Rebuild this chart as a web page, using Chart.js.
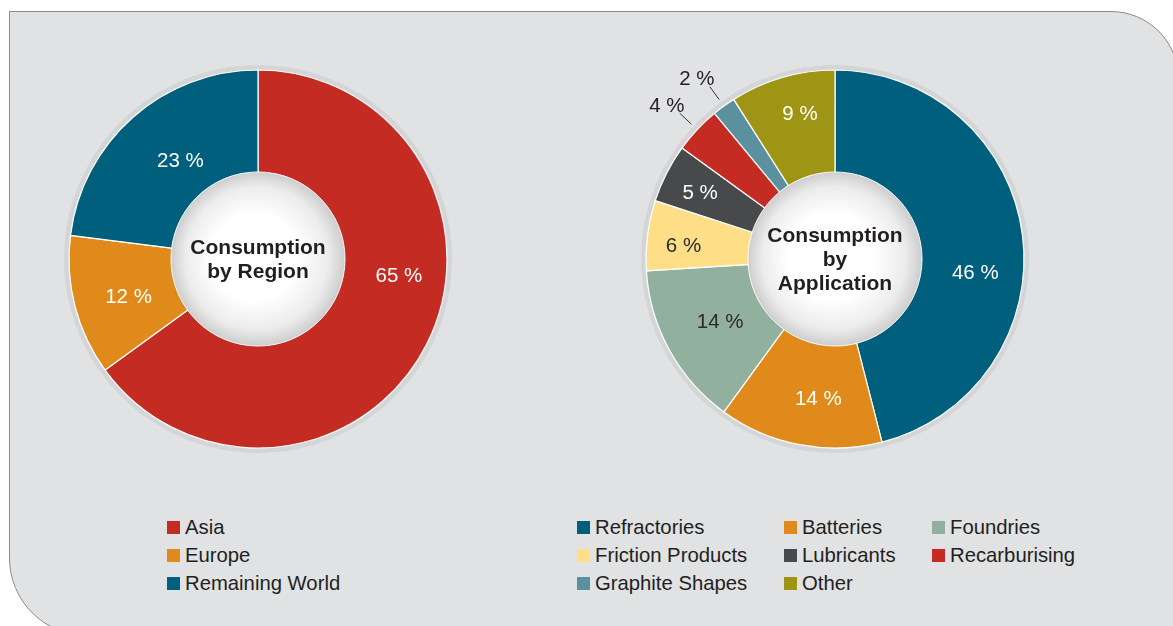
<!DOCTYPE html>
<html>
<head>
<meta charset="utf-8">
<script src="https://cdn.jsdelivr.net/npm/chart.js@4"></script>
<style>
  html, body { margin: 0; padding: 0; background: #fff; }
  body { width: 1173px; height: 626px; position: relative; overflow: hidden;
         font-family: "Liberation Sans", Arial, sans-serif; }
  .panel { position: absolute; left: 9px; top: 11px; width: 1168px; height: 623px;
           background: #e1e2e4; border: 1px solid #8c8c8c;
           border-top-right-radius: 68px; border-bottom-left-radius: 78px; }
  canvas { position: absolute; }
  .legend { position: absolute; top: 513px; display: grid; color: #231f20; font-size: 20.3px; }
  .legend .item { display: flex; align-items: center; height: 28px; line-height: 28px; white-space: nowrap; }
  .legend .sw { width: 13px; height: 13px; margin-right: 5px; flex: none; }
</style>
</head>
<body>
<div class="panel"></div>
<canvas id="regionChart" width="440" height="440" style="left:38px;top:39px"></canvas>
<canvas id="appChart" width="440" height="440" style="left:615px;top:39px"></canvas>
<div class="legend" id="regionLegend" style="left:167px;grid-template-columns:300px"></div>
<div class="legend" id="appLegend" style="left:577px;grid-template-columns:207px 148px 200px"></div>
<script>
// ---- データ ----
const regionLabels = ['Asia', 'Europe', 'Remaining World'];
const regionValues = [65, 12, 23];
const regionColors = ['#c42b22', '#e08a1b', '#005f7c'];

const appLabels = ['Refractories', 'Batteries', 'Foundries', 'Friction Products',
                   'Lubricants', 'Recarburising', 'Graphite Shapes', 'Other'];
const appValues = [46, 14, 14, 6, 5, 4, 2, 9];
const appColors = ['#005f7c', '#e08a1b', '#92b09e', '#fedf88',
                   '#48494b', '#c42b22', '#5b919f', '#9d9513'];

// ---- ラベル配置（角度の微調整・半径・文字色） ----
const regionLabelStyle = {
  radius: [142, 135, 125],
  shift: [-20, -2, 3],
  color: ['#fff', '#fff', '#fff'],
};
const appLabelStyle = {
  radius: [141, 141, 131, 152, 150, 227, 227, 149],
  shift: [13, -4, 0, -2.5, -1, -1, -1.5, 2.6],
  color: ['#fff', '#fff', '#2b2b2b', '#2b2b2b', '#fff', '#231f20', '#231f20', '#fff'],
};

// 背景リング + 中央の白い円 + ラベル
const donutDecor = {
  id: 'donutDecor',
  beforeDatasetsDraw(chart) {
    const arc = chart.getDatasetMeta(0).data[0];
    if (!arc) return;
    const { ctx } = chart;
    ctx.save();
    ctx.beginPath();
    ctx.arc(arc.x, arc.y, arc.outerRadius + 5, 0, Math.PI * 2);
    ctx.fillStyle = '#d4d5d7';
    ctx.fill();
    ctx.restore();
  },
  afterDatasetsDraw(chart, args, opts) {
    const meta = chart.getDatasetMeta(0);
    const { ctx } = chart;
    const cx = meta.data[0].x, cy = meta.data[0].y;
    const outer = meta.data[0].outerRadius;
    const inner = meta.data[0].innerRadius + 2;

    // 中央の円
    ctx.save();
    const g = ctx.createRadialGradient(cx - 8, cy - 4, 0, cx, cy, inner);
    g.addColorStop(0, '#ffffff');
    g.addColorStop(0.5, '#ffffff');
    g.addColorStop(0.82, '#ececec');
    g.addColorStop(1, '#cdcdcd');
    ctx.beginPath();
    ctx.arc(cx, cy, inner, 0, Math.PI * 2);
    ctx.fillStyle = g;
    ctx.fill();
    ctx.lineWidth = 1;
    ctx.strokeStyle = 'rgba(255,255,255,0.9)';
    ctx.stroke();

    // 中央テキスト
    ctx.fillStyle = '#231f20';
    ctx.font = 'bold 21px "Liberation Sans", Arial, sans-serif';
    ctx.textAlign = 'center';
    ctx.textBaseline = 'middle';
    const lines = opts.title;
    const lh = 24;
    lines.forEach((t, i) => {
      ctx.fillText(t, cx, cy + 1 + (i - (lines.length - 1) / 2) * lh);
    });

    // スライスのラベル
    ctx.font = '20.5px "Liberation Sans", Arial, sans-serif';
    const data = chart.data.datasets[0].data;
    const st = opts.labels;
    meta.data.forEach((el, i) => {
      const mid = (el.startAngle + el.endAngle) / 2;
      const a = mid + (st.shift[i] || 0) * Math.PI / 180;
      const r = st.radius[i];
      if (r > outer) {
        ctx.beginPath();
        ctx.moveTo(cx + Math.cos(mid) * (outer + 8), cy + Math.sin(mid) * (outer + 8));
        ctx.lineTo(cx + Math.cos(mid) * (outer + 24), cy + Math.sin(mid) * (outer + 24));
        ctx.strokeStyle = '#333';
        ctx.lineWidth = 1;
        ctx.stroke();
      }
      ctx.fillStyle = st.color[i];
      ctx.fillText(data[i] + ' %', cx + Math.cos(a) * r, cy + Math.sin(a) * r);
    });
    ctx.restore();
  }
};

function makeDonut(id, labels, values, colors, title, labelStyle) {
  return new Chart(document.getElementById(id), {
    type: 'doughnut',
    data: {
      labels,
      datasets: [{
        data: values,
        backgroundColor: colors,
        borderColor: '#ffffff',
        borderWidth: 1.2,
        hoverOffset: 0,
      }]
    },
    options: {
      responsive: false,
      animation: false,
      radius: 189,
      cutout: '45%',
      layout: { padding: 0 },
      events: [],
      plugins: {
        legend: { display: false },
        tooltip: { enabled: false },
        donutDecor: { title, labels: labelStyle },
      }
    },
    plugins: [donutDecor]
  });
}

makeDonut('regionChart', regionLabels, regionValues, regionColors,
          ['Consumption', 'by Region'], regionLabelStyle);
makeDonut('appChart', appLabels, appValues, appColors,
          ['Consumption', 'by', 'Application'], appLabelStyle);

// ---- 凡例 (HTML) ----
function buildLegend(elId, labels, colors) {
  const el = document.getElementById(elId);
  labels.forEach((l, i) => {
    const item = document.createElement('div');
    item.className = 'item';
    item.innerHTML = `<span class="sw" style="background:${colors[i]}"></span><span>${l}</span>`;
    el.appendChild(item);
  });
}
buildLegend('regionLegend', regionLabels, regionColors);
buildLegend('appLegend', appLabels, appColors);
</script>
</body>
</html>
